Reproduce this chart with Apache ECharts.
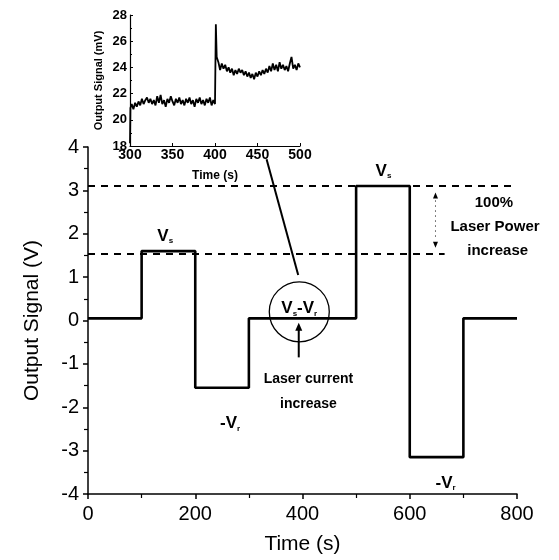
<!DOCTYPE html>
<html>
<head>
<meta charset="utf-8">
<script src="https://cdn.jsdelivr.net/npm/echarts@6/dist/echarts.min.js"></script>
<style>
html,body{margin:0;padding:0;background:#fff;}
#chart{width:559px;height:560px;}
</style>
</head>
<body>
<div id="chart"></div>
<script>
// Main chart data (step levels, each level holds from its time until the next time)
const mainTimes  = [0, 100, 200, 300, 500, 600, 700, 800];
const mainLevels = [0.05, 1.6, -1.55, 0.05, 3.1, -3.15, 0.05, 0.05];
const xTicksMain = [0, 200, 400, 600, 800];
const yTicksMain = [-4, -3, -2, -1, 0, 1, 2, 3, 4];
const refLevelHigh = 3.1;
const refLevelLow = 1.55;

// Inset data (Output Signal, mV)
const insetTimes = [300,300.5,302,304,306,308,310,312,314,316,318,320,322,324,326,328,330,332,334,336,338,340,342,344,346,348,350,352,354,356,358,360,362,364,366,368,370,372,374,376,378,380,382,384,386,388,390,392,394,396,398,400,401,402,404,406,408,410,412,414,416,418,420,422,424,426,428,430,432,434,436,438,440,442,444,446,448,450,452,454,456,458,460,462,464,466,468,470,472,474,476,478,480,482,484,486,488,490,492,494,496,498,500];
const insetValues = [18.2,20.9,21.2,20.8,21.3,21.0,21.4,21.1,21.6,21.2,21.5,21.7,21.3,21.6,21.2,21.5,21.1,21.8,21.3,21.9,21.2,21.5,21.0,21.6,21.3,21.8,21.4,21.1,21.6,21.3,21.7,21.2,21.5,21.1,21.6,21.3,21.7,21.2,21.5,21.0,21.6,21.3,21.7,21.2,21.5,21.1,21.6,21.3,21.7,21.1,21.5,21.2,27.3,24.8,24.4,23.8,24.3,23.9,24.2,23.7,24.0,23.6,23.9,23.4,23.8,23.5,23.9,23.6,23.8,23.4,23.7,23.3,23.6,23.2,23.5,23.1,23.6,23.3,23.7,23.4,23.8,23.5,23.9,23.6,24.1,23.7,24.3,23.8,24.2,23.7,24.4,23.9,24.2,23.8,24.1,23.7,24.3,24.8,23.9,24.2,23.8,24.3,24.0];
const xTicksInset = [300, 350, 400, 450, 500];
const yTicksInset = [18, 20, 22, 24, 26, 28];

const mainData = mainTimes.map((t, i) => [t, mainLevels[i]]);
const insetData = insetTimes.map((t, i) => [t, insetValues[i]]);

const FONT = '"Liberation Sans", Arial, sans-serif';
const chart = echarts.init(document.getElementById('chart'));

const option = {
  animation: false,
  backgroundColor: '#fff',
  grid: [
    {left: 88, right: 42, top: 147, bottom: 63},
    {left: 130, right: 259, top: 15, bottom: 414}
  ],
  xAxis: [
    {
      gridIndex: 0, type: 'value', min: 0, max: 800, interval: 200,
      name: 'Time (s)', nameLocation: 'middle', nameGap: 40,
      nameTextStyle: {fontFamily: FONT, fontSize: 21, color: '#000'},
      axisLine: {onZero: false, lineStyle: {color: '#000', width: 1.5}},
      axisTick: {show: true, inside: false, length: 5, lineStyle: {color: '#000', width: 1.5}},
      minorTick: {show: true, splitNumber: 2, length: 4, lineStyle: {color: '#000', width: 1.2}},
      axisLabel: {fontFamily: FONT, fontSize: 20, color: '#000', margin: 10},
      splitLine: {show: false}
    },
    {
      gridIndex: 1, type: 'value', min: 300, max: 500, interval: 50,
      name: 'Time (s)', nameLocation: 'middle', nameGap: 24,
      nameTextStyle: {fontFamily: FONT, fontSize: 12, fontWeight: 'bold', color: '#000'},
      axisLine: {onZero: false, lineStyle: {color: '#000', width: 1.2}},
      axisTick: {show: true, inside: true, length: 3, lineStyle: {color: '#000'}},
      minorTick: {show: false},
      axisLabel: {fontFamily: FONT, fontSize: 14, fontWeight: 'bold', color: '#000', margin: 2},
      splitLine: {show: false}
    }
  ],
  yAxis: [
    {
      gridIndex: 0, type: 'value', min: -4, max: 4, interval: 1,
      name: 'Output Signal (V)', nameLocation: 'middle', nameGap: 45, nameRotate: 90,
      nameTextStyle: {fontFamily: FONT, fontSize: 21, color: '#000'},
      axisLine: {onZero: false, lineStyle: {color: '#000', width: 1.5}},
      axisTick: {show: true, inside: false, length: 5, lineStyle: {color: '#000', width: 1.5}},
      minorTick: {show: true, splitNumber: 2, length: 4, lineStyle: {color: '#000', width: 1.2}},
      axisLabel: {fontFamily: FONT, fontSize: 20, color: '#000', margin: 9},
      splitLine: {show: false}
    },
    {
      gridIndex: 1, type: 'value', min: 18, max: 28, interval: 2,
      name: 'Output Signal (mV)', nameLocation: 'middle', nameGap: 26, nameRotate: 90,
      nameTextStyle: {fontFamily: FONT, fontSize: 11, fontWeight: 'bold', color: '#000'},
      axisLine: {onZero: false, lineStyle: {color: '#000', width: 1.2}},
      axisTick: {show: true, inside: true, length: 3, lineStyle: {color: '#000'}},
      minorTick: {show: true, splitNumber: 2, length: 2, lineStyle: {color: '#000'}},
      axisLabel: {fontFamily: FONT, fontSize: 13, fontWeight: 'bold', color: '#000', margin: 3},
      splitLine: {show: false}
    }
  ],
  series: [
    {
      type: 'line', xAxisIndex: 0, yAxisIndex: 0, data: mainData, step: 'end',
      showSymbol: false, lineStyle: {color: '#000', width: 2.6},
      markLine: {
        silent: true, symbol: 'none', label: {show: false},
        lineStyle: {color: '#000', type: [7, 6], width: 1.8},
        data: [
          [{coord: [0, refLevelHigh]}, {coord: [795, refLevelHigh]}],
          [{coord: [0, refLevelLow]}, {coord: [665, refLevelLow]}]
        ]
      }
    },
    {
      type: 'line', xAxisIndex: 1, yAxisIndex: 1, data: insetData,
      showSymbol: false, lineStyle: {color: '#000', width: 1.8}
    }
  ]
};
chart.setOption(option);

function px(x, y) { return chart.convertToPixel({gridIndex: 0}, [x, y]); }

const rich = {
  v: {fontFamily: FONT, fontSize: 17, fontWeight: 'bold', color: '#000'},
  s: {fontFamily: FONT, fontSize: 8, fontWeight: 'bold', color: '#000', padding: [10, 0, 0, 0]}
};

function txt(x, y, text, size, weight, richText) {
  const p = px(x, y);
  const style = {
    x: p[0], y: p[1], text: text, align: 'center', verticalAlign: 'middle',
    fill: '#000', font: (weight || 'bold') + ' ' + (size || 15) + 'px ' + FONT
  };
  if (richText) { style.rich = rich; }
  return {type: 'text', style: style, z: 10};
}

const cC = px(394, 0.2);
const lnA = px(333, 3.72);
const lnB = px(392, 1.05);
const arB = px(393, -0.85);
const arT = px(393, -0.05);
const upA = px(648, 2.95);
const dnA = px(648, 1.68);

const graphics = [
  txt(144, 1.95, '{v|V}{s|s}', 17, 'bold', true),
  txt(265, -2.38, '{v|-V}{s|r}', 17, 'bold', true),
  txt(551, 3.45, '{v|V}{s|s}', 17, 'bold', true),
  txt(667, -3.75, '{v|-V}{s|r}', 17, 'bold', true),
  txt(394, 0.28, '{v|V}{s|s}{v|-V}{s|r}', 17, 'bold', true),
  txt(411, -1.35, 'Laser current', 14, 'bold'),
  txt(411, -1.92, 'increase', 14, 'bold'),
  txt(757, 2.72, '100%', 15, 'bold'),
  txt(759, 2.17, 'Laser Power', 15, 'bold'),
  txt(764, 1.6, 'increase', 15, 'bold'),
  {type: 'circle', shape: {cx: cC[0], cy: cC[1], r: 30}, style: {fill: 'none', stroke: '#000', lineWidth: 1.3}, z: 10},
  {type: 'line', shape: {x1: lnA[0], y1: lnA[1], x2: lnB[0], y2: lnB[1]}, style: {stroke: '#000', lineWidth: 2}, z: 10},
  {type: 'line', shape: {x1: arB[0], y1: arB[1], x2: arT[0], y2: arT[1] + 6}, style: {stroke: '#000', lineWidth: 2}, z: 10},
  {type: 'polygon', shape: {points: [[arT[0], arT[1]], [arT[0] - 3.5, arT[1] + 8], [arT[0] + 3.5, arT[1] + 8]]}, style: {fill: '#000'}, z: 10},
  {type: 'polygon', shape: {points: [[upA[0], upA[1]], [upA[0] - 2.5, upA[1] + 6], [upA[0] + 2.5, upA[1] + 6]]}, style: {fill: '#000'}, z: 10},
  {type: 'polygon', shape: {points: [[dnA[0], dnA[1]], [dnA[0] - 2.5, dnA[1] - 6], [dnA[0] + 2.5, dnA[1] - 6]]}, style: {fill: '#000'}, z: 10},
  {type: 'line', shape: {x1: upA[0], y1: upA[1] + 8, x2: dnA[0], y2: dnA[1] - 8}, style: {stroke: '#000', lineWidth: 1, lineDash: [1, 4]}, z: 10}
];
chart.setOption({graphic: graphics});
</script>
</body>
</html>
